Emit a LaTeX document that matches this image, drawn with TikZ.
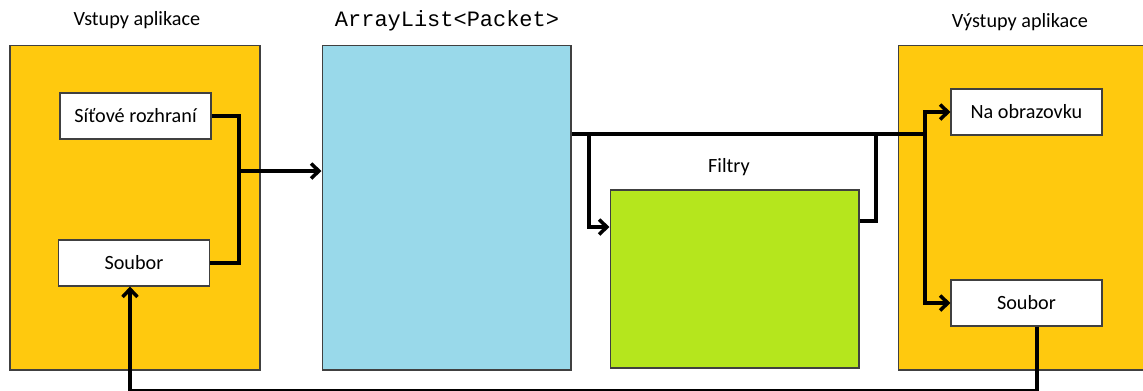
\documentclass[tikz,border=0pt]{standalone}
\usepackage{fontspec}
\setmainfont{Carlito}
\newfontfamily\codefont{Liberation Mono}
\usetikzlibrary{arrows.meta,positioning}
\definecolor{zluta}{RGB}{255,201,14}
\definecolor{modra}{RGB}{153,217,234}
\definecolor{zelena}{RGB}{181,230,29}
\definecolor{okraj}{RGB}{64,64,64}

\tikzset{
  blok/.style={draw=okraj,line width=0.6pt,inner sep=0pt},
  vstup/.style={blok,fill=white,minimum width=3.02cm,minimum height=0.92cm,font=\fontsize{11.5}{13}\selectfont},
  popis/.style={font=\fontsize{11.5}{13}\selectfont,inner sep=0pt},
  vodic/.style={line width=2.3pt},
  sipka/.style={vodic,-{Straight Barb[length=4.5pt,width=8.5pt,line width=2pt]}}
}

\begin{document}
\begin{tikzpicture}[x=0.02cm,y=-0.02cm]
  \clip (0,0) rectangle (1143,390);
  \useasboundingbox (0,0) rectangle (1143,390);

  % bloky
  \node[blok,fill=zluta,minimum width=5cm,minimum height=6.5cm] (vstupy) at (135,207.5) {};
  \node[blok,fill=modra,minimum width=4.98cm,minimum height=6.5cm] (list) at (446.5,207.5) {};
  \node[blok,fill=zelena,minimum width=4.98cm,minimum height=3.56cm] (filtry) at (734.5,279) {};
  \node[blok,fill=zluta,minimum width=5cm,minimum height=6.5cm] (vystupy) at (1023,207.5) {};

  \node[popis] (tvstupy) at (137,20) {Vstupy aplikace};
  \node[popis,font=\codefont\fontsize{12.5}{14}\selectfont] (tlist) at (447,21) {ArrayList<Packet>};
  \node[popis] (tfiltry) at (729,167) {Filtry};
  \node[popis] (tvystupy) at (1020,22) {Výstupy aplikace};

  \node[vstup] (sit) at (135.5,116) {Síťové rozhraní};
  \node[vstup] (souborL) at (134,263) {Soubor};
  \node[vstup] (obraz) at (1026.5,112) {Na obrazovku};
  \node[vstup] (souborR) at (1026.5,303) {Soubor};

  % spoje
  \coordinate (jl) at (239,171);
  \coordinate (split) at (589,134);
  \coordinate (merge) at (876,134);
  \coordinate (jr) at (925,134);
  \coordinate (bot) at (130,391);

  \draw[vodic] (sit.east) -| (jl) |- (souborL.east);
  \draw[sipka] (jl) -- (list.west |- jl);
  \draw[vodic] (list.east |- split) -- (jr);
  \draw[sipka] (split) |- (filtry.west |- 0,227);
  \draw[vodic] (filtry.east |- 0,221) -| (merge);
  \draw[sipka] (jr) |- (obraz.west);
  \draw[sipka] (jr) |- (souborR.west);
  \draw[sipka] ([xshift=0.21cm]souborR.south) -- ([xshift=0.21cm]souborR.south |- bot) -- (bot) -- (bot |- souborL.south);
\end{tikzpicture}
\end{document}
